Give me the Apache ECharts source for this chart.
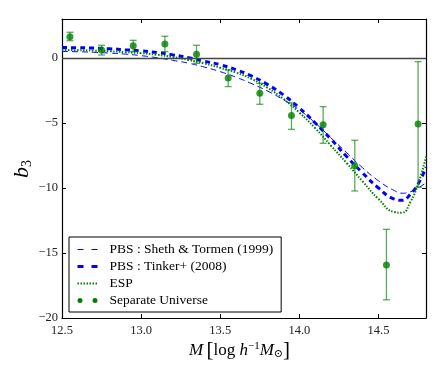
<!DOCTYPE html>
<html>
<head>
<meta charset="utf-8">
<script src="https://cdn.jsdelivr.net/npm/echarts@6/dist/echarts.min.js"></script>
<style>
  html, body { margin: 0; padding: 0; background: #fff; }
  #main { width: 447px; height: 369px; }
</style>
</head>
<body>
<div id="main"></div>
<script>
// mass grid for the model curves
var massX = [12.5, 12.6, 12.7, 12.8, 12.9, 13.0, 13.1, 13.2, 13.3, 13.4, 13.5, 13.6, 13.7,
             13.8, 13.9, 14.0, 14.1, 14.2, 14.3, 14.4, 14.5, 14.6, 14.65, 14.7, 14.75, 14.8];

// PBS : Sheth & Tormen (1999)
var stY = [0.50, 0.48, 0.44, 0.38, 0.30, 0.18, 0.02, -0.18, -0.40, -0.70, -1.05, -1.48, -1.98,
           -2.55, -3.22, -4.00, -5.00, -6.15, -7.30, -8.45, -9.45, -10.20, -10.40, -10.30, -10.00, -9.60];

// PBS : Tinker+ (2008)
var tinkerY = [0.80, 0.79, 0.76, 0.71, 0.64, 0.55, 0.42, 0.24, 0.02, -0.25, -0.52, -0.90, -1.40,
               -2.05, -2.85, -3.85, -5.00, -6.25, -7.60, -8.85, -10.00, -10.85, -10.95, -10.50, -9.70, -8.40];

// ESP
var espY = [0.62, 0.60, 0.57, 0.52, 0.45, 0.37, 0.25, 0.08, -0.15, -0.42, -0.75, -1.12, -1.62,
            -2.30, -3.15, -4.20, -5.40, -6.75, -8.10, -9.50, -10.85, -11.85, -11.90, -11.10, -9.70, -7.60];

// Separate Universe measurements with error bars
var suX  = [12.55, 12.75, 12.95, 13.15, 13.35, 13.55, 13.75, 13.95, 14.15, 14.35, 14.55, 14.75];
var suY  = [1.64, 0.62, 0.95, 1.08, 0.28, -1.54, -2.72, -4.42, -5.13, -8.28, -15.92, -5.08];
var suLo = [1.33, 0.23, 0.49, 0.49, -0.41, -2.20, -3.56, -5.49, -6.56, -10.23, -18.60, -9.95];
var suHi = [1.98, 0.98, 1.36, 1.67, 0.98, -0.92, -1.95, -3.45, -3.74, -6.33, -13.18, -0.28];

var xTicks = [12.5, 13.0, 13.5, 14.0, 14.5];
var yTicks = [-20, -15, -10, -5, 0];

var serif = '"Liberation Serif", "DejaVu Serif", serif';

function pairs(xs, ys) {
    return xs.map(function (x, i) { return [x, ys[i]]; });
}

function fmtX(v) {
    var r = Math.round(v * 10) / 10;
    return xTicks.indexOf(r) >= 0 && Math.abs(v - r) < 1e-6 ? r.toFixed(1) : '';
}
function fmtY(v) {
    if (yTicks.indexOf(v) < 0) return '';
    return v < 0 ? '\u2212' + Math.abs(v) : String(v);
}

var chart = echarts.init(document.getElementById('main'), null, { renderer: 'canvas' });

var boxLine = { show: true, onZero: false, lineStyle: { color: '#000', width: 1.2 } };
var tickIn = { show: true, inside: true, length: 4, lineStyle: { color: '#000', width: 1 } };
var noDot = { opacity: 0 };

var option = {
    animation: false,
    backgroundColor: '#fff',
    grid: { left: 62, top: 19, right: 21, bottom: 51, containLabel: false },
    xAxis: [{
        type: 'value', min: 12.5, max: 14.8, interval: 0.5,
        axisLine: boxLine, axisTick: tickIn, splitLine: { show: false },
        axisLabel: { formatter: fmtX, color: '#222', fontFamily: serif, fontSize: 12.5, margin: 6 }
    }, {
        type: 'value', position: 'top', min: 12.5, max: 14.8, interval: 0.5,
        axisLine: boxLine, axisTick: tickIn, splitLine: { show: false },
        axisLabel: { show: false }
    }],
    yAxis: [{
        type: 'value', min: -20, max: 3, interval: 5,
        axisLine: boxLine, axisTick: tickIn, splitLine: { show: false },
        axisLabel: { formatter: fmtY, color: '#222', fontFamily: serif, fontSize: 12.5, margin: 4 }
    }, {
        type: 'value', position: 'right', min: -20, max: 3, interval: 5,
        axisLine: boxLine, axisTick: tickIn, splitLine: { show: false },
        axisLabel: { show: false }
    }],
    legend: {
        orient: 'vertical',
        left: 69, top: 237,
        padding: [5, 8, 4, 7],
        itemWidth: 20, itemHeight: 5, itemGap: 2,
        borderColor: '#000', borderWidth: 1, borderRadius: 0,
        backgroundColor: '#fff',
        textStyle: { fontFamily: serif, fontSize: 13.5, color: '#000', lineHeight: 15, padding: [0, 0, 0, 7] },
        data: [
            { name: 'PBS : Sheth & Tormen (1999)', itemStyle: noDot,
              lineStyle: { color: '#0000ff', width: 1, type: [6, 8] } },
            { name: 'PBS : Tinker+ (2008)', itemStyle: noDot,
              lineStyle: { color: '#0000ff', width: 3, type: [6, 8] } },
            { name: 'ESP', itemStyle: noDot,
              lineStyle: { color: '#008000', width: 2, type: [1.5, 1.5] } },
            { name: 'Separate Universe', icon: 'path://M0,2.5a2.5,2.5 0 1,0 5,0a2.5,2.5 0 1,0 -5,0zM15,2.5a2.5,2.5 0 1,0 5,0a2.5,2.5 0 1,0 -5,0z' }
        ]
    },
    graphic: [{
        type: 'text',
        left: 11, top: 160,
        rotation: Math.PI / 2,
        style: {
            text: '{i|b}{s|3}',
            rich: {
                i: { fontFamily: serif, fontStyle: 'italic', fontSize: 22, fill: '#000' },
                s: { fontFamily: serif, fontSize: 14, fill: '#000', padding: [10, 0, 0, 0] }
            }
        }
    }, {
        type: 'text',
        left: 189, top: 340,
        style: {
            text: '{i|M} {b|[}{r|log }{i|h}{p|\u22121}{i|M}{s|\u2299}{b|]}',
            rich: {
                i: { fontFamily: serif, fontStyle: 'italic', fontSize: 17, fill: '#000' },
                r: { fontFamily: serif, fontSize: 17, fill: '#000' },
                b: { fontFamily: serif, fontSize: 21, fill: '#000' },
                p: { fontFamily: serif, fontSize: 11, fill: '#000', padding: [0, 0, 9, 0] },
                s: { fontFamily: serif, fontSize: 11, fill: '#000', padding: [8, 0, 0, 0] }
            }
        }
    }],
    series: [{
        name: 'PBS : Sheth & Tormen (1999)',
        type: 'line', showSymbol: false, symbol: 'none', smooth: true,
        data: pairs(massX, stY),
        lineStyle: { color: '#0000ff', width: 1, type: [6, 4] },
        itemStyle: { color: '#0000ff' },
        markLine: {
            silent: true, symbol: 'none', label: { show: false },
            lineStyle: { color: '#444', width: 1.3, type: 'solid' },
            data: [{ yAxis: 0 }]
        },
        z: 2
    }, {
        name: 'PBS : Tinker+ (2008)',
        type: 'line', showSymbol: false, symbol: 'none', smooth: true,
        data: pairs(massX, tinkerY),
        lineStyle: { color: '#0000ff', width: 3, type: [5, 4] },
        itemStyle: { color: '#0000ff' },
        z: 3
    }, {
        name: 'ESP',
        type: 'line', showSymbol: false, symbol: 'none', smooth: true,
        data: pairs(massX, espY),
        lineStyle: { color: '#008000', width: 2, type: [1.5, 1.5] },
        itemStyle: { color: '#008000' },
        z: 4
    }, {
        name: 'Separate Universe',
        type: 'custom',
        data: suX.map(function (x, i) { return [x, suLo[i], suHi[i]]; }),
        renderItem: function (params, api) {
            var top = api.coord([api.value(0), api.value(2)]);
            var bot = api.coord([api.value(0), api.value(1)]);
            var cap = 3.5;
            var st = { stroke: 'rgba(0,128,0,0.65)', lineWidth: 1.3 };
            return {
                type: 'group',
                children: [
                    { type: 'line', shape: { x1: top[0], y1: top[1], x2: bot[0], y2: bot[1] }, style: st },
                    { type: 'line', shape: { x1: top[0] - cap, y1: top[1], x2: top[0] + cap, y2: top[1] }, style: st },
                    { type: 'line', shape: { x1: bot[0] - cap, y1: bot[1], x2: bot[0] + cap, y2: bot[1] }, style: st }
                ]
            };
        },
        itemStyle: { color: '#008000' },
        z: 5
    }, {
        name: 'Separate Universe',
        type: 'scatter',
        data: pairs(suX, suY),
        symbol: 'circle', symbolSize: 7,
        itemStyle: { color: '#008000' },
        z: 6
    }]
};

chart.setOption(option);
</script>
</body>
</html>
